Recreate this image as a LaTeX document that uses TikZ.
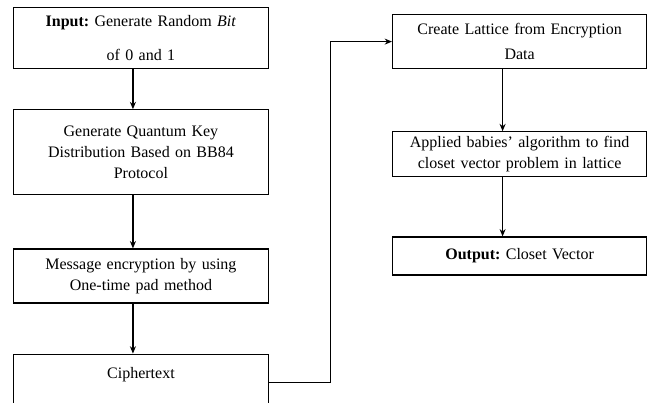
\documentclass[tikz,border=0pt]{standalone}
\usepackage{fontspec}
\setmainfont{Liberation Serif}
\usetikzlibrary{positioning,arrows.meta}
\frenchspacing

\begin{document}
\begin{tikzpicture}[
  >={Stealth[length=5.5pt,width=4.5pt]},
  line width=0.9pt,
  every node/.style={font=\fontsize{12}{15.5}\selectfont},
  stepbox/.style={
    draw, align=center,
    text width=185pt, inner xsep=3pt, inner ysep=2pt},
  rstepbox/.style={stepbox, text width=184.5pt}]

  \useasboundingbox (0,0) rectangle (485.25pt,-302.25pt);

  % left column
  \node[stepbox, minimum height=45.75pt, anchor=north west] (in) at (9.75pt,-5.25pt)
    {\textbf{Input:} Generate Random \textit{Bit}\\[10pt] of 0 and 1};
  \node[stepbox, minimum height=63.75pt, below=30pt of in] (qkd)
    {Generate Quantum Key\\ Distribution Based on BB84\\ Protocol};
  \node[stepbox, minimum height=40.5pt, below=39.75pt of qkd] (otp)
    {Message encryption by using\\ One-time pad method};
  \node[stepbox, minimum height=43pt, below=37.5pt of otp] (cipher)
    {Ciphertext\\ \mbox{}};

  % right column
  \node[rstepbox, minimum height=40.5pt, anchor=north west] (lattice) at (294pt,-10.5pt)
    {Create Lattice from Encryption\\[3pt] Data};
  \node[rstepbox, minimum height=33.75pt, below=46.5pt of lattice] (babai)
    {Applied babies’ algorithm to find\\ closet vector problem in lattice};
  \node[rstepbox, minimum height=28.5pt, below=44.25pt of babai] (out)
    {\textbf{Output:} Closet Vector};

  \draw[->] ([xshift=-6pt]in.south) -- ([xshift=-6pt]qkd.north);
  \draw[->] ([xshift=-6pt]qkd.south) -- ([xshift=-6pt]otp.north);
  \draw[->] ([xshift=-6pt]otp.south) -- ([xshift=-6pt]cipher.north);
  \draw[->] (cipher.east) -- ++(46pt,0) |- (lattice.west);
  \draw[->] ([xshift=-12.75pt]lattice.south) -- ([xshift=-12.75pt]babai.north);
  \draw[->] ([xshift=-12.75pt]babai.south) -- ([xshift=-12.75pt]out.north);
\end{tikzpicture}
\end{document}
